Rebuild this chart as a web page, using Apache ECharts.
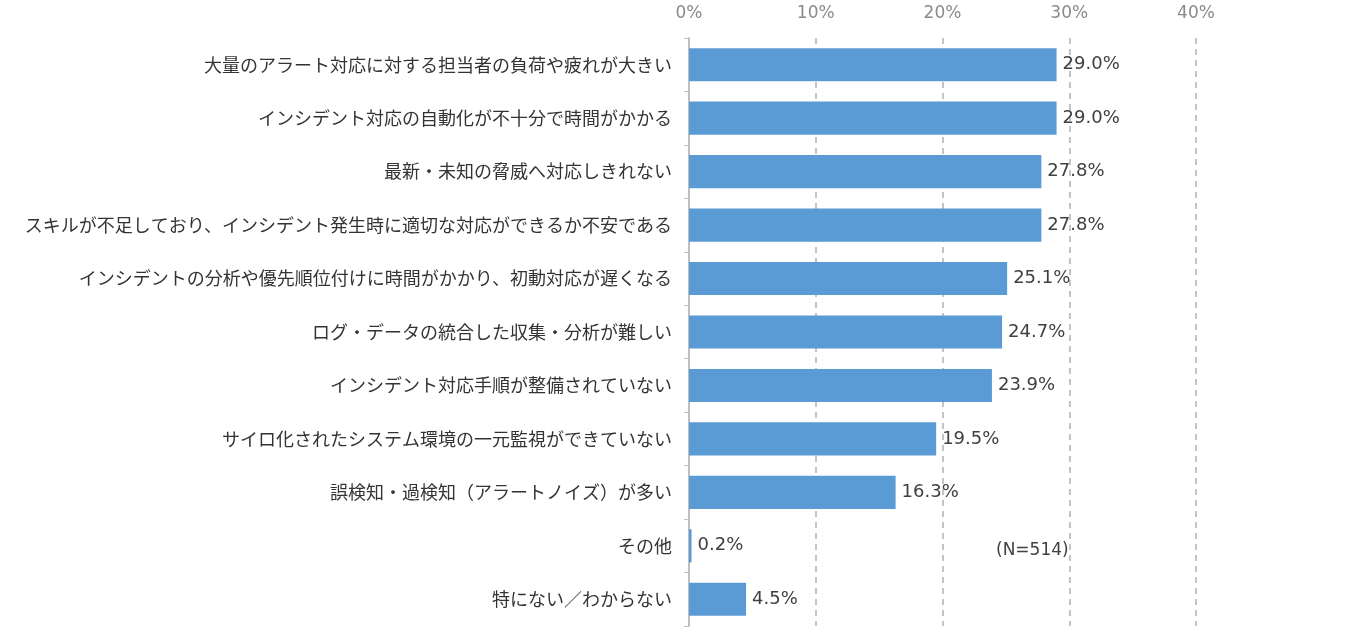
<!DOCTYPE html>
<html>
<head>
    <meta charset="utf-8" />
    <title></title>
    <script src="https://cdn.jsdelivr.net/npm/echarts@6.0.0/dist/echarts.min.js"></script>
    <style>
        * { margin: 0; padding: 0; box-sizing: border-box; }
        body { background: #fff; }
        #chart { width: 1350px; height: 640px; }
    </style>
</head>
<body>
    <div id="chart"></div>
    <script>
        // データ
        const categories = [
            '大量のアラート対応に対する担当者の負荷や疲れが大きい',
            'インシデント対応の自動化が不十分で時間がかかる',
            '最新・未知の脅威へ対応しきれない',
            'スキルが不足しており、インシデント発生時に適切な対応ができるか不安である',
            'インシデントの分析や優先順位付けに時間がかかり、初動対応が遅くなる',
            'ログ・データの統合した収集・分析が難しい',
            'インシデント対応手順が整備されていない',
            'サイロ化されたシステム環境の一元監視ができていない',
            '誤検知・過検知（アラートノイズ）が多い',
            'その他',
            '特にない／わからない'
        ];
        const values = [29.0, 29.0, 27.8, 27.8, 25.1, 24.7, 23.9, 19.5, 16.3, 0.2, 4.5];
        const axisTicks = [0, 10, 20, 30, 40];
        const noteText = '(N=514)';

        const chart = echarts.init(document.getElementById('chart'));
        const jpFont = "'Noto Sans CJK JP', 'Noto Sans', sans-serif";
        const numFont = "'DejaVu Sans', 'Noto Sans CJK JP', sans-serif";

        const option = {
            animation: false,
            textStyle: { fontFamily: jpFont },
            grid: { left: 689, right: 154, top: 38, bottom: 14 },
            xAxis: {
                type: 'value',
                position: 'top',
                min: axisTicks[0],
                max: axisTicks[axisTicks.length - 1],
                interval: 10,
                axisLine: { show: false },
                axisTick: { show: false },
                axisLabel: { color: '#8a8a8a', fontSize: 17, fontFamily: numFont, formatter: '{value}%', margin: 16 },
                splitLine: { lineStyle: { color: '#c4c4c4', type: [6, 5], width: 2 } }
            },
            yAxis: {
                type: 'category',
                inverse: true,
                data: categories,
                axisLine: { show: true, lineStyle: { color: '#bfbfbf', width: 2 } },
                axisTick: { show: true, length: 5, lineStyle: { color: '#bfbfbf' } },
                axisLabel: { color: '#333', fontSize: 18, margin: 17 }
            },
            series: [{
                type: 'bar',
                data: values,
                barWidth: '62%',
                itemStyle: { color: '#5b9bd5' },
                label: {
                    show: true,
                    position: 'right',
                    distance: 6,
                    color: '#404040',
                    fontSize: 18,
                    fontFamily: numFont,
                    formatter: p => p.value.toFixed(1) + '%'
                }
            }],
            graphic: [{
                type: 'text',
                left: 996,
                top: 542,
                style: { text: noteText, fill: '#404040', fontSize: 17, fontFamily: numFont }
            }]
        };

        chart.setOption(option);
    </script>
</body>
</html>
